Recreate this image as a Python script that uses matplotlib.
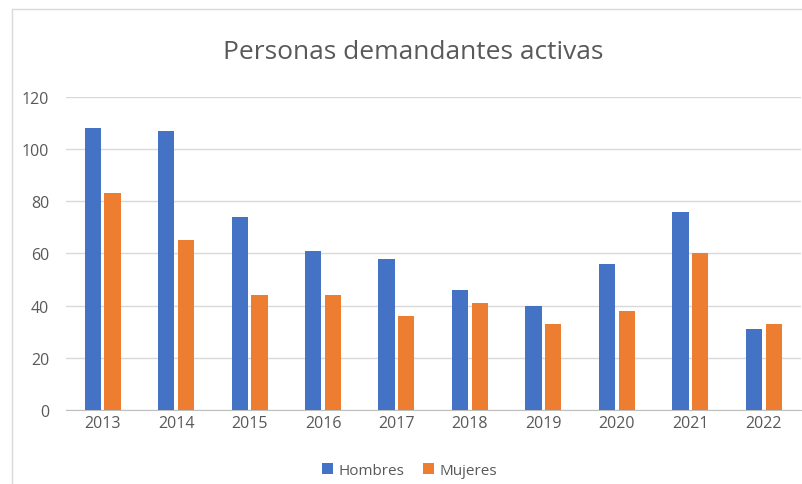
import matplotlib.pyplot as plt
import numpy as np
from matplotlib.patches import Rectangle

years = ['2013', '2014', '2015', '2016', '2017', '2018', '2019', '2020', '2021', '2022']
hombres = [108, 107, 74, 61, 58, 46, 40, 56, 76, 31]
mujeres = [83, 65, 44, 44, 36, 41, 33, 38, 60, 33]

plt.rcParams['font.family'] = ['Open Sans', 'DejaVu Sans']

fig = plt.figure(figsize=(8.03, 4.85), dpi=100)
ax = fig.add_axes([0.082, 0.153, 0.915, 0.645])

# chart area border
fig.patches.append(Rectangle((0.015, -0.1), 1.2, 1.08, transform=fig.transFigure,
                             fill=False, edgecolor='#d9d9d9', linewidth=1))

x = np.arange(len(years))
w = 0.22
ax.bar(x - 0.135, hombres, w, color='#4472c4', label='Hombres', zorder=3)
ax.bar(x + 0.135, mujeres, w, color='#ed7d31', label='Mujeres', zorder=3)

ax.set_xlim(-0.5, len(years) - 0.5)
ax.set_ylim(0, 120)
ax.set_yticks(range(0, 121, 20))
ax.set_xticks(x)
ax.set_xticklabels(years)
ax.grid(axis='y', color='#d9d9d9', linewidth=1, zorder=0)
for s in ['top', 'right', 'left']:
    ax.spines[s].set_visible(False)
ax.spines['bottom'].set_color('#bfbfbf')
ax.tick_params(axis='both', length=0, labelsize=11.5, colors='#595959')
ax.tick_params(axis='y', pad=12)
ax.tick_params(axis='x', pad=4)

fig.text(0.515, 0.892, 'Personas demandantes activas', ha='center', va='center',
         fontsize=19, color='#595959')

fig.legend(loc='center', bbox_to_anchor=(0.51, 0.028), ncol=2, frameon=False,
           fontsize=11, handlelength=0.7, handleheight=0.7, columnspacing=1.2,
           handletextpad=0.4, labelcolor='#595959')

fig.savefig('out.png', dpi=100)
